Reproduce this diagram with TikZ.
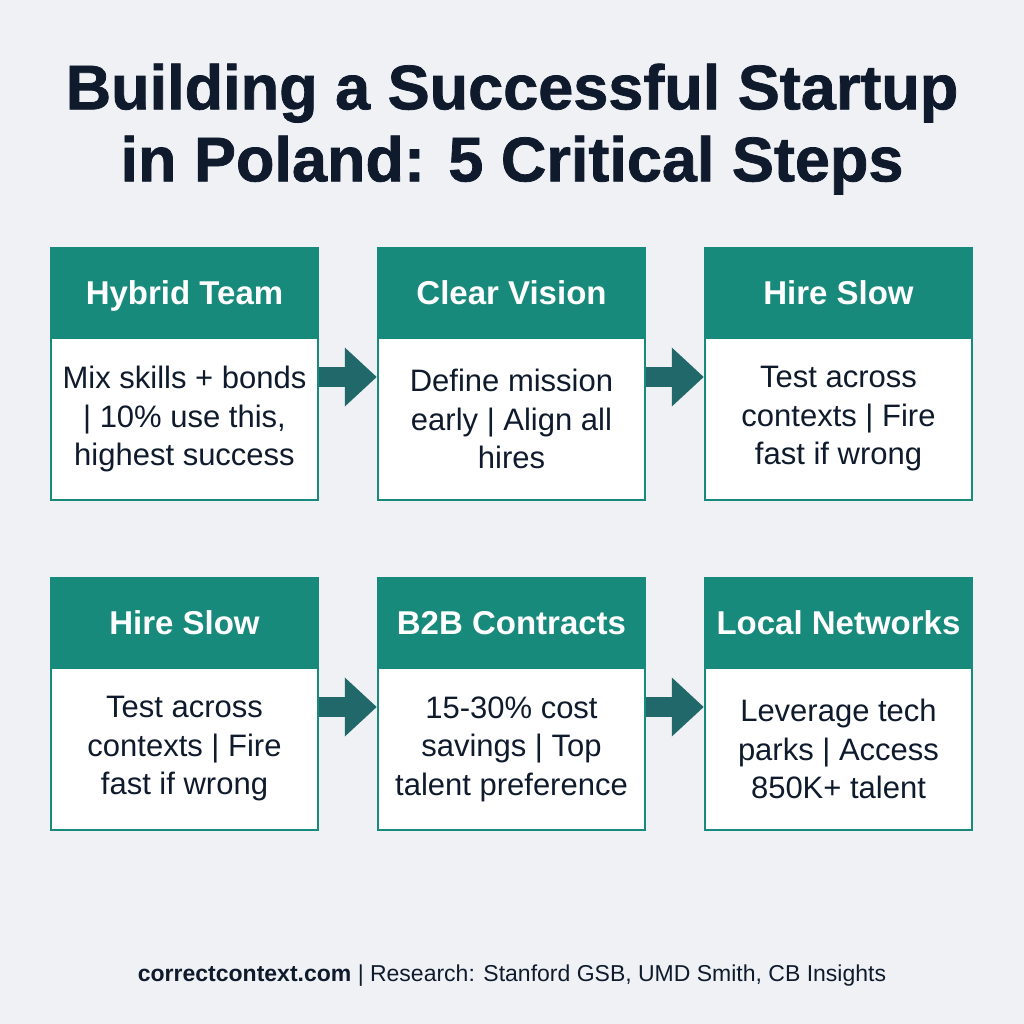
\documentclass[tikz,border=0pt]{standalone}
\usepackage{fontspec}
\setmainfont{Liberation Sans}
\newfontfamily\heavyfont[FakeBold=1.2]{Liberation Sans Bold}
\usepackage{tikz}
\usetikzlibrary{arrows.meta, positioning}

\definecolor{bgcol}{HTML}{EFF1F5}
\definecolor{headcol}{HTML}{178A7B}
\definecolor{arrowcol}{HTML}{20686A}
\definecolor{titlecol}{HTML}{0F1B2D}

\begin{document}
\begin{tikzpicture}[
  x=0.5pt, y=-0.5pt,
  head/.style={draw=headcol, fill=headcol, line width=1pt, minimum width=133.5pt, minimum height=45pt,
    inner sep=0pt, text height=11.8pt, text depth=0pt, text=white, font=\fontsize{16.5}{19}\selectfont\bfseries},
  body/.style={draw=headcol, fill=white, line width=1.2pt, minimum width=133.5pt, minimum height=81pt,
    inner sep=0pt, align=center, text=titlecol, font=\fontsize{15.5}{19.25}\selectfont},
  flow/.style={-{Triangle[length=16pt, width=28.5pt]}, line width=10pt, draw=arrowcol}
]
  \fill[bgcol] (0,0) rectangle (1024,1024);
  \useasboundingbox (0,0) rectangle (1024,1024);

  \node[text=titlecol, font=\fontsize{31.5}{36}\heavyfont, align=center] (title) at (512,129)
    {Building a Successful Startup\\ in Poland: 5 Critical Steps};

  % first row
  \node[head] (h1) at (184.5,293) {Hybrid Team};
  \node[body] (b1) at (184.5,419) {Mix skills + bonds\\ | 10\% use this,\\ highest success};
  \node[head] (h2) at (511.5,293) {Clear Vision};
  \node[body] (b2) at (511.5,419) {Define mission\\ early | Align all\\ hires};
  \node[head] (h3) at (838.5,293) {Hire Slow};
  \node[body] (b3) at (838.5,419) {Test across\\ contexts | Fire\\ fast if wrong};

  % second row
  \node[head] (h4) at (184.5,623) {Hire Slow};
  \node[body] (b4) at (184.5,749) {Test across\\ contexts | Fire\\ fast if wrong};
  \node[head] (h5) at (511.5,623) {B2B Contracts};
  \node[body] (b5) at (511.5,749) {15-30\% cost\\ savings | Top\\ talent preference};
  \node[head] (h6) at (838.5,623) {Local Networks};
  \node[body] (b6) at (838.5,749) {Leverage tech\\ parks | Access\\ 850K+ talent};

  \draw[flow] ([yshift=21pt]b1.east) -- ([yshift=21pt]b2.west);
  \draw[flow] ([yshift=21pt]b2.east) -- ([yshift=21pt]b3.west);
  \draw[flow] ([yshift=21pt]b4.east) -- ([yshift=21pt]b5.west);
  \draw[flow] ([yshift=21pt]b5.east) -- ([yshift=21pt]b6.west);

  \node[text=titlecol, font=\fontsize{11.5}{13}\selectfont] (foot) at (512,976)
    {\textbf{correctcontext.com} | Research: Stanford GSB, UMD Smith, CB Insights};
\end{tikzpicture}
\end{document}
